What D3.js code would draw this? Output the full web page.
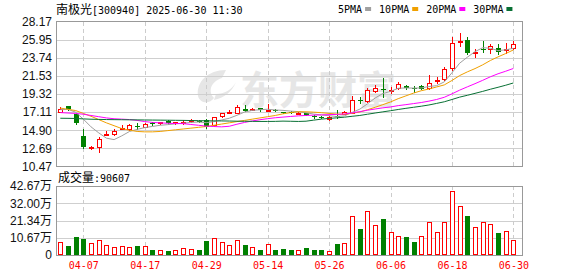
<!DOCTYPE html>
<html>
<head>
<meta charset="utf-8">
<script src="https://cdn.jsdelivr.net/npm/d3@7"></script>
<style>
	body { margin: 0; background: #fff; }
	svg { display: block; }
</style>
</head>
<body>
<svg id="chart" width="578" height="276"></svg>
<script>

var dates = ["04-01","04-02","04-03","04-07","04-08","04-09","04-10","04-11","04-14","04-15",
	"04-16","04-17","04-18","04-21","04-22","04-23","04-24","04-25","04-28","04-29",
	"04-30","05-06","05-07","05-08","05-09","05-12","05-13","05-14","05-15","05-16",
	"05-19","05-20","05-21","05-22","05-23","05-26","05-27","05-28","05-29","05-30",
	"06-03","06-04","06-05","06-06","06-09","06-10","06-11","06-12","06-13","06-16",
	"06-17","06-18","06-19","06-20","06-23","06-24","06-25","06-26","06-27","06-30"];

var opens = [17.16,17.80,16.88,14.19,12.78,12.85,14.38,14.38,15.08,15.07,
	15.42,15.35,15.84,15.82,15.98,15.74,15.90,16.00,16.05,16.15,
	15.54,16.63,17.04,17.06,17.49,17.42,17.61,17.35,17.38,17.10,
	17.10,16.98,16.99,16.58,16.57,16.23,16.60,16.88,17.04,18.62,
	18.50,19.69,19.90,19.80,20.02,20.30,20.00,20.30,20.02,20.98,
	21.11,22.46,25.75,25.91,24.35,24.85,24.78,24.94,24.75,24.90];
var highs = [17.70,17.90,16.92,15.01,13.00,14.03,14.84,15.01,15.55,15.60,
	15.75,15.75,15.90,15.95,16.20,15.95,16.20,16.25,16.15,16.25,
	16.55,17.00,17.33,17.98,17.98,17.65,17.66,18.10,17.50,17.15,
	17.20,17.15,17.05,16.70,16.65,16.60,17.37,17.20,19.11,19.00,
	20.05,20.40,21.24,20.21,20.80,20.40,20.25,20.40,21.64,21.43,
	22.60,26.31,26.73,26.31,24.81,25.79,25.42,25.42,25.51,25.79];
var lows = [17.10,17.40,15.60,12.75,12.65,12.18,14.35,14.35,15.00,14.95,
	15.10,15.30,15.50,15.70,15.66,15.70,15.70,15.85,15.90,15.20,
	15.40,16.50,16.95,17.00,17.25,17.35,17.30,17.20,17.25,16.95,
	16.95,16.95,16.70,16.40,16.45,16.20,16.35,16.85,17.00,18.20,
	18.40,19.60,18.92,19.50,19.95,19.90,19.60,19.90,19.95,20.63,
	21.00,22.25,25.18,24.20,23.87,24.48,24.29,24.17,24.29,24.80];
var closes = [17.49,17.45,15.74,12.79,12.85,13.83,14.42,14.84,15.13,15.51,
	15.35,15.63,15.60,15.86,15.84,15.90,15.96,16.10,16.00,15.33,
	16.51,16.96,17.08,17.79,17.30,17.47,17.37,17.40,17.34,17.05,
	17.00,17.05,16.72,16.53,16.52,16.55,16.50,17.12,18.59,18.55,
	19.81,20.09,19.85,19.86,20.50,20.02,19.95,19.97,20.70,21.05,
	22.33,25.51,25.82,24.36,24.45,24.70,25.18,24.41,24.80,25.42];

var volumes = [80400,55700,111000,99000,74000,91000,62000,48000,54000,48000,
	56000,54000,31000,29000,25000,29000,41000,37000,31000,87000,
	103000,80000,62000,93000,62000,48000,31000,68000,31000,37000,
	31000,29000,43000,31000,31000,23000,68000,72000,239000,161000,
	270000,183000,223000,140000,116000,111000,80000,116000,202000,140000,
	202000,394000,301000,241000,171000,202000,190000,136000,147000,90607];

var ma5 = [17.40,17.45,17.10,16.25,15.31,14.58,13.93,13.75,14.21,14.74,
	15.00,15.22,15.36,15.50,15.58,15.68,15.75,15.85,15.90,15.82,
	15.95,16.15,16.36,16.72,17.12,17.32,17.40,17.46,17.37,17.32,
	17.23,17.17,17.03,16.87,16.76,16.67,16.57,16.65,17.07,17.47,
	18.12,18.83,19.38,19.63,20.02,20.06,20.04,20.06,20.23,20.34,
	20.80,21.91,23.08,23.81,24.49,24.97,24.90,24.62,24.71,24.90];
var ma10 = [17.60,17.45,17.30,16.95,16.60,16.20,15.80,15.45,15.10,14.90,
	14.75,14.70,14.70,14.75,14.85,14.95,15.05,15.15,15.25,15.35,
	15.50,15.65,15.80,15.95,16.10,16.25,16.40,16.55,16.70,16.90,
	17.05,17.15,17.15,17.10,17.04,16.95,16.87,16.84,16.97,17.12,
	17.40,17.70,18.02,18.35,18.75,19.09,19.43,19.72,19.93,20.18,
	20.43,20.97,21.57,22.02,22.42,22.88,23.41,23.85,24.26,24.70];
var ma20 = [17.05,17.00,16.95,16.85,16.70,16.55,16.40,16.30,16.25,16.20,
	16.10,15.95,15.85,15.80,15.75,15.72,15.70,15.60,15.50,15.40,
	15.35,15.31,15.38,15.63,15.85,16.03,16.18,16.31,16.42,16.50,
	16.58,16.65,16.70,16.74,16.77,16.80,16.83,16.88,17.01,17.17,
	17.34,17.49,17.63,17.74,17.90,18.02,18.15,18.28,18.45,18.65,
	18.92,19.34,19.79,20.19,20.58,20.99,21.42,21.79,22.10,22.44];
var ma30 = [16.36,16.35,16.33,16.28,16.24,16.22,16.20,16.19,16.18,16.17,
	16.16,16.15,16.14,16.13,16.12,16.11,16.10,16.08,16.07,16.05,
	16.04,16.03,16.02,16.00,15.99,15.98,15.97,15.97,15.98,16.01,
	15.99,15.97,16.00,16.13,16.25,16.34,16.41,16.49,16.60,16.70,
	16.85,17.00,17.14,17.28,17.43,17.57,17.70,17.83,17.98,18.17,
	18.37,18.65,18.94,19.16,19.40,19.64,19.90,20.14,20.39,20.67];

var priceTicks = [10.47,12.69,14.90,17.11,19.32,21.53,23.74,25.95,28.17];
var volTicks = [0,106675,213350,320025,426700];
var volTickLabels = ["0","10.67万","21.34万","32.00万","42.67万"];
var dateTicks = ["04-07","04-17","04-29","05-14","05-26","06-06","06-18","06-30"];

var maNames = ["5PMA","10PMA","20PMA","30PMA"];
var maColors = ["#a0a0a0","#f0a000","#ff00ff","#087034"];
var maSeries = [ma5, ma10, ma20, ma30];

var upColor = "#ff0000", downColor = "#008000";
var monoFont = "'DejaVu Sans Mono', 'Liberation Mono', monospace";
var cjkFont = "'Noto Sans CJK SC', sans-serif";

var plotLeft = 56, plotRight = 522;
var priceTop = 21.5, priceBottom = 166.5;
var volTop = 186, volBottom = 255;

var svg = d3.select("#chart");

var x = d3.scalePoint()
	.domain(dates)
	.range([60.3, 513.4]);

var yPrice = d3.scaleLinear()
	.domain([10.47, 28.17])
	.range([priceBottom, priceTop]);

var yVol = d3.scaleLinear()
	.domain([0, 426700])
	.range([volBottom, volTop]);

function px(v) { return Math.round(v) + 0.5; }

function drawWatermark() {
	var wm = svg.append("g").attr("fill", "#e6e6e6");
	// rough version of the logo swoosh
	wm.append("path")
		.attr("d", "M226,70 C208,70 196,82 198,96 C200,104 210,104 214,98 C208,92 210,82 222,78 Z M214,100 C224,98 232,92 236,82 C232,90 224,94 216,94 Z");
	wm.append("text")
		.attr("x", 240)
		.attr("y", 104)
		.attr("font-family", cjkFont)
		.attr("font-weight", "bold")
		.attr("font-size", 39)
		.text("东方财富");
}

function drawGrid() {
	var grid = svg.append("g").attr("shape-rendering", "crispEdges");

	grid.selectAll(".hp")
		.data(priceTicks.slice(1, -1))
		.enter().append("line")
		.attr("x1", plotLeft).attr("x2", plotRight)
		.attr("y1", function(d) { return px(yPrice(d)); })
		.attr("y2", function(d) { return px(yPrice(d)); })
		.attr("stroke", "#cfcfcf");

	grid.selectAll(".hv")
		.data(volTicks.slice(1, -1))
		.enter().append("line")
		.attr("x1", plotLeft).attr("x2", plotRight)
		.attr("y1", function(d) { return px(yVol(d)); })
		.attr("y2", function(d) { return px(yVol(d)); })
		.attr("stroke", "#cfcfcf");

	[[priceTop, priceBottom], [volTop, volBottom]].forEach(function(r) {
		grid.selectAll(null)
			.data(dateTicks)
			.enter().append("line")
			.attr("x1", function(d) { return px(x(d)); })
			.attr("x2", function(d) { return px(x(d)); })
			.attr("y1", r[0]).attr("y2", r[1])
			.attr("stroke", "#cccccc")
			.attr("stroke-dasharray", "4,3");
	});

	grid.append("rect")
		.attr("x", plotLeft + 0.5).attr("y", Math.floor(priceTop) + 0.5)
		.attr("width", plotRight - plotLeft).attr("height", Math.round(priceBottom - priceTop))
		.attr("fill", "none").attr("stroke", "#999");

	grid.append("rect")
		.attr("x", plotLeft + 0.5).attr("y", volTop + 0.5)
		.attr("width", plotRight - plotLeft).attr("height", volBottom - volTop)
		.attr("fill", "none").attr("stroke", "#999");
}

function drawCandles() {
	var g = svg.append("g").attr("shape-rendering", "crispEdges");

	var candles = g.selectAll("g")
		.data(dates)
		.enter().append("g");

	candles.append("line")
		.attr("x1", function(d) { return px(x(d)); })
		.attr("x2", function(d) { return px(x(d)); })
		.attr("y1", function(d, i) { return Math.round(yPrice(highs[i])); })
		.attr("y2", function(d, i) { return Math.round(yPrice(lows[i])) + 1; })
		.attr("stroke", function(d, i) { return closes[i] >= opens[i] ? upColor : downColor; });

	candles.append("rect")
		.attr("x", function(d, i) {
			var cx = Math.round(x(d));
			return closes[i] >= opens[i] ? cx - 1.5 : cx - 2;
		})
		.attr("y", function(d, i) {
			var top = Math.round(yPrice(Math.max(opens[i], closes[i])));
			return closes[i] >= opens[i] ? top + 0.5 : top;
		})
		.attr("width", function(d, i) { return closes[i] >= opens[i] ? 4 : 5; })
		.attr("height", function(d, i) {
			var h = Math.round(yPrice(Math.min(opens[i], closes[i]))) - Math.round(yPrice(Math.max(opens[i], closes[i])));
			return Math.max(1, h);
		})
		.attr("fill", function(d, i) { return closes[i] >= opens[i] ? "#fff" : downColor; })
		.attr("stroke", function(d, i) { return closes[i] >= opens[i] ? upColor : "none"; });
}

function drawMA() {
	maSeries.forEach(function(series, k) {
		var line = d3.line()
			.x(function(d, i) { return x(dates[i]); })
			.y(function(d) { return yPrice(d); });
		svg.append("path")
			.datum(series)
			.attr("fill", "none")
			.attr("stroke", maColors[k])
			.attr("stroke-width", 1)
			.attr("d", line);
	});
}

function drawVolume() {
	var g = svg.append("g").attr("shape-rendering", "crispEdges");

	function isUp(i) {
		return closes[i] >= (i > 0 ? closes[i - 1] : opens[i]);
	}

	g.selectAll("rect")
		.data(volumes)
		.enter().append("rect")
		.attr("x", function(d, i) {
			var cx = Math.round(x(dates[i]));
			return isUp(i) ? cx - 1.5 : cx - 2;
		})
		.attr("y", function(d, i) {
			var top = Math.round(yVol(d));
			return isUp(i) ? top + 0.5 : top;
		})
		.attr("width", function(d, i) { return isUp(i) ? 4 : 5; })
		.attr("height", function(d, i) {
			var h = volBottom - Math.round(yVol(d));
			return isUp(i) ? h - 1 : h;
		})
		.attr("fill", function(d, i) { return isUp(i) ? "#fff" : downColor; })
		.attr("stroke", function(d, i) { return isUp(i) ? upColor : "none"; });
}

function drawAxes() {
	var priceAxis = d3.axisLeft(yPrice)
		.tickValues(priceTicks)
		.tickSize(0)
		.tickPadding(4)
		.tickFormat(d3.format(".2f"));

	var pa = svg.append("g")
		.attr("transform", "translate(" + plotLeft + ",0)")
		.call(priceAxis);
	pa.select(".domain").remove();
	pa.selectAll("text")
		.attr("font-family", "'Liberation Sans', Arial, sans-serif")
		.attr("font-size", 12)
		.attr("fill", "#111");

	var volAxis = d3.axisLeft(yVol)
		.tickValues(volTicks)
		.tickSize(0)
		.tickPadding(4)
		.tickFormat(function(d, i) { return volTickLabels[i]; });

	var va = svg.append("g")
		.attr("transform", "translate(" + plotLeft + ",0)")
		.call(volAxis);
	va.select(".domain").remove();
	va.selectAll("text")
		.attr("font-family", "'Liberation Sans', 'Noto Sans CJK SC', sans-serif")
		.attr("font-size", 12)
		.attr("fill", "#111");

	var dateAxis = d3.axisBottom(x)
		.tickValues(dateTicks)
		.tickSize(0)
		.tickPadding(7);

	var da = svg.append("g")
		.attr("transform", "translate(0," + volBottom + ")")
		.call(dateAxis);
	da.select(".domain").remove();
	da.selectAll("text")
		.attr("font-family", monoFont)
		.attr("font-size", 10)
		.attr("fill", upColor);
}

function drawTitles() {
	var header = svg.append("text")
		.attr("x", plotLeft)
		.attr("y", 13.5)
		.attr("fill", "#000");
	header.append("tspan").attr("font-family", cjkFont).attr("font-size", 12).text("南极光");
	header.append("tspan").attr("font-family", monoFont).attr("font-size", 10).text("[300940] 2025-06-30 11:30");

	var vol = svg.append("text")
		.attr("x", plotLeft + 2)
		.attr("y", 181.5)
		.attr("fill", "#000");
	vol.append("tspan").attr("font-family", cjkFont).attr("font-size", 12).text("成交量");
	vol.append("tspan").attr("font-family", monoFont).attr("font-size", 10).text(":" + volumes[volumes.length - 1]);

	var cursor = 338;
	var legend = svg.append("g");
	maNames.forEach(function(name, k) {
		var t = legend.append("text")
			.attr("x", cursor)
			.attr("y", 13)
			.attr("font-family", monoFont)
			.attr("font-size", 10)
			.attr("fill", "#000")
			.text(name);
		cursor += t.node().getComputedTextLength() + 3;
		legend.append("rect")
			.attr("x", cursor).attr("y", 7)
			.attr("width", 6).attr("height", 4)
			.attr("fill", maColors[k]);
		cursor += 14;
	});
}

drawWatermark();
drawGrid();
drawVolume();
drawCandles();
drawMA();
drawAxes();
drawTitles();

</script>
</body>
</html>
